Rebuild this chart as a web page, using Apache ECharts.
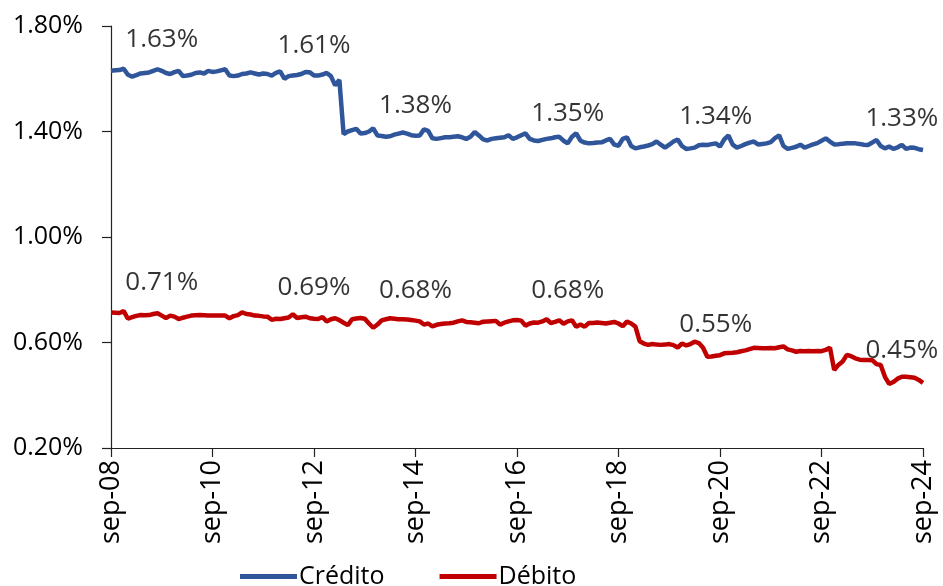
<!DOCTYPE html>
<html>
<head>
<meta charset="utf-8">
<script src="https://cdn.jsdelivr.net/npm/echarts@6/dist/echarts.min.js"></script>
<style>
  html, body { margin: 0; padding: 0; background: #fff; }
  #chart { width: 943px; height: 586px; }
</style>
</head>
<body>
<div id="chart"></div>
<script>
// meses sep-08 .. sep-24
const monthNames = ['ene', 'feb', 'mar', 'abr', 'may', 'jun', 'jul', 'ago', 'sep', 'oct', 'nov', 'dic'];
const months = [];
for (let y = 2008, m = 8; y < 2024 || (y === 2024 && m <= 8); ) {
  months.push(monthNames[m] + '-' + String(y).slice(2));
  m++;
  if (m === 12) { m = 0; y++; }
}

const credito = [
  1.630, 1.632, 1.633, 1.638, 1.615, 1.608, 1.614, 1.620, 1.622, 1.624,
  1.630, 1.636, 1.630, 1.622, 1.618, 1.625, 1.630, 1.610, 1.612, 1.615,
  1.622, 1.624, 1.620, 1.630, 1.626, 1.628, 1.632, 1.636, 1.612, 1.610,
  1.612, 1.618, 1.620, 1.624, 1.620, 1.616, 1.620, 1.618, 1.612, 1.622,
  1.628, 1.600, 1.610, 1.612, 1.614, 1.618, 1.626, 1.625, 1.612, 1.612,
  1.616, 1.622, 1.610, 1.575, 1.596, 1.390, 1.400, 1.405, 1.410, 1.392,
  1.394, 1.400, 1.412, 1.385, 1.383, 1.380, 1.382, 1.388, 1.392, 1.396,
  1.392, 1.386, 1.384, 1.385, 1.408, 1.402, 1.374, 1.372, 1.375, 1.378,
  1.378, 1.380, 1.382, 1.378, 1.372, 1.380, 1.398, 1.385, 1.370, 1.366,
  1.372, 1.374, 1.376, 1.378, 1.386, 1.372, 1.378, 1.386, 1.393, 1.372,
  1.366, 1.364, 1.368, 1.372, 1.374, 1.378, 1.380, 1.365, 1.355, 1.380,
  1.393, 1.365, 1.358, 1.355, 1.356, 1.358, 1.359, 1.366, 1.372, 1.350,
  1.346, 1.372, 1.378, 1.345, 1.336, 1.340, 1.343, 1.347, 1.352, 1.362,
  1.350, 1.339, 1.350, 1.362, 1.370, 1.345, 1.334, 1.336, 1.339, 1.348,
  1.350, 1.349, 1.352, 1.355, 1.343, 1.370, 1.385, 1.350, 1.339, 1.345,
  1.352, 1.358, 1.362, 1.351, 1.353, 1.355, 1.360, 1.375, 1.385, 1.345,
  1.334, 1.338, 1.342, 1.350, 1.339, 1.345, 1.351, 1.356, 1.365, 1.374,
  1.362, 1.351, 1.352, 1.354, 1.355, 1.355, 1.355, 1.353, 1.350, 1.349,
  1.358, 1.368, 1.345, 1.336, 1.343, 1.334, 1.340, 1.349, 1.334, 1.339,
  1.338, 1.333, 1.330
];

const debito = [
  0.714, 0.713, 0.712, 0.719, 0.690, 0.696, 0.701, 0.704, 0.703, 0.704,
  0.708, 0.711, 0.702, 0.693, 0.702, 0.698, 0.689, 0.694, 0.698, 0.702,
  0.703, 0.704, 0.703, 0.702, 0.702, 0.702, 0.702, 0.702, 0.692, 0.700,
  0.704, 0.714, 0.708, 0.706, 0.702, 0.701, 0.699, 0.698, 0.686, 0.690,
  0.689, 0.692, 0.695, 0.707, 0.693, 0.696, 0.698, 0.692, 0.690, 0.689,
  0.696, 0.680, 0.688, 0.692, 0.685, 0.675, 0.666, 0.688, 0.691, 0.693,
  0.690, 0.672, 0.656, 0.668, 0.684, 0.688, 0.692, 0.690, 0.688, 0.688,
  0.687, 0.685, 0.683, 0.680, 0.668, 0.672, 0.661, 0.667, 0.670, 0.672,
  0.673, 0.675, 0.680, 0.684, 0.678, 0.677, 0.675, 0.673, 0.679, 0.680,
  0.681, 0.682, 0.668, 0.675, 0.680, 0.684, 0.685, 0.683, 0.664, 0.672,
  0.676, 0.675, 0.680, 0.688, 0.674, 0.678, 0.684, 0.671, 0.680, 0.684,
  0.660, 0.668, 0.660, 0.674, 0.674, 0.676, 0.674, 0.672, 0.675, 0.678,
  0.672, 0.662, 0.679, 0.672, 0.660, 0.605, 0.596, 0.591, 0.594, 0.592,
  0.591, 0.592, 0.594, 0.590, 0.581, 0.596, 0.589, 0.594, 0.603, 0.598,
  0.580, 0.546, 0.547, 0.550, 0.552, 0.559, 0.560, 0.561, 0.563, 0.567,
  0.570, 0.575, 0.580, 0.579, 0.578, 0.578, 0.579, 0.578, 0.582, 0.585,
  0.574, 0.570, 0.565, 0.568, 0.567, 0.568, 0.567, 0.568, 0.567, 0.572,
  0.580, 0.496, 0.515, 0.528, 0.553, 0.548, 0.540, 0.535, 0.534, 0.534,
  0.533, 0.518, 0.515, 0.470, 0.443, 0.450, 0.463, 0.470, 0.470, 0.468,
  0.466, 0.458, 0.447
];

// etiquetas de texto sobre las líneas
const labelIdx = [12, 48, 72, 108, 143, 187];
const creditoLabels = [1.63, 1.61, 1.38, 1.35, 1.34, 1.33];
const debitoLabels = [0.71, 0.69, 0.68, 0.68, 0.55, 0.45];

const yTicks = { min: 0.2, max: 1.8, interval: 0.4 };

const FONT = '"Open Sans", Lato, sans-serif';
const BLUE = '#2F559A';
const RED = '#C00000';

const pct = v => v.toFixed(2) + '%';

function labelSeries(name, vals) {
  return {
    name: name,
    type: 'scatter',
    symbolSize: 0,
    silent: true,
    data: labelIdx.map((ix, k) => [ix, vals[k]]),
    label: {
      show: true,
      position: 'top',
      distance: 18,
      color: '#000',
      fontFamily: FONT,
      fontSize: 26,
      formatter: p => pct(p.value[1])
    }
  };
}

const chart = echarts.init(document.getElementById('chart'));
chart.setOption({
  animation: false,
  backgroundColor: '#fff',
  grid: { left: 111, right: 20, top: 26, bottom: 138 },
  legend: {
    data: ['Crédito', 'Débito'],
    left: 240,
    bottom: -3,
    padding: 0,
    icon: 'rect',
    itemWidth: 57,
    itemHeight: 5,
    itemGap: 55,
    textStyle: { fontFamily: FONT, fontSize: 25, color: '#000', padding: [0, 0, 0, -3] }
  },
  xAxis: {
    type: 'category',
    data: months,
    boundaryGap: false,
    axisLine: { lineStyle: { color: '#222', width: 1.2 } },
    axisTick: { interval: 23, length: 9, lineStyle: { color: '#222', width: 1.2 } },
    axisLabel: {
      interval: 23,
      rotate: 90,
      margin: 12,
      color: '#000',
      fontFamily: FONT,
      fontSize: 27
    },
    splitLine: { show: false }
  },
  yAxis: {
    type: 'value',
    min: yTicks.min,
    max: yTicks.max,
    interval: yTicks.interval,
    axisLine: { show: true, lineStyle: { color: '#222', width: 1.2 } },
    axisTick: { show: true, length: 9, lineStyle: { color: '#222', width: 1.2 } },
    axisLabel: {
      margin: 28,
      color: '#000',
      fontFamily: FONT,
      fontSize: 25,
      formatter: v => pct(v)
    },
    splitLine: { show: false }
  },
  series: [
    {
      name: 'Crédito',
      type: 'line',
      data: credito,
      showSymbol: false,
      lineStyle: { color: BLUE, width: 4.5 },
      itemStyle: { color: BLUE }
    },
    {
      name: 'Débito',
      type: 'line',
      data: debito,
      showSymbol: false,
      lineStyle: { color: RED, width: 4.5 },
      itemStyle: { color: RED }
    },
    labelSeries('credLbl', creditoLabels),
    labelSeries('debLbl', debitoLabels)
  ]
});
</script>
</body>
</html>
